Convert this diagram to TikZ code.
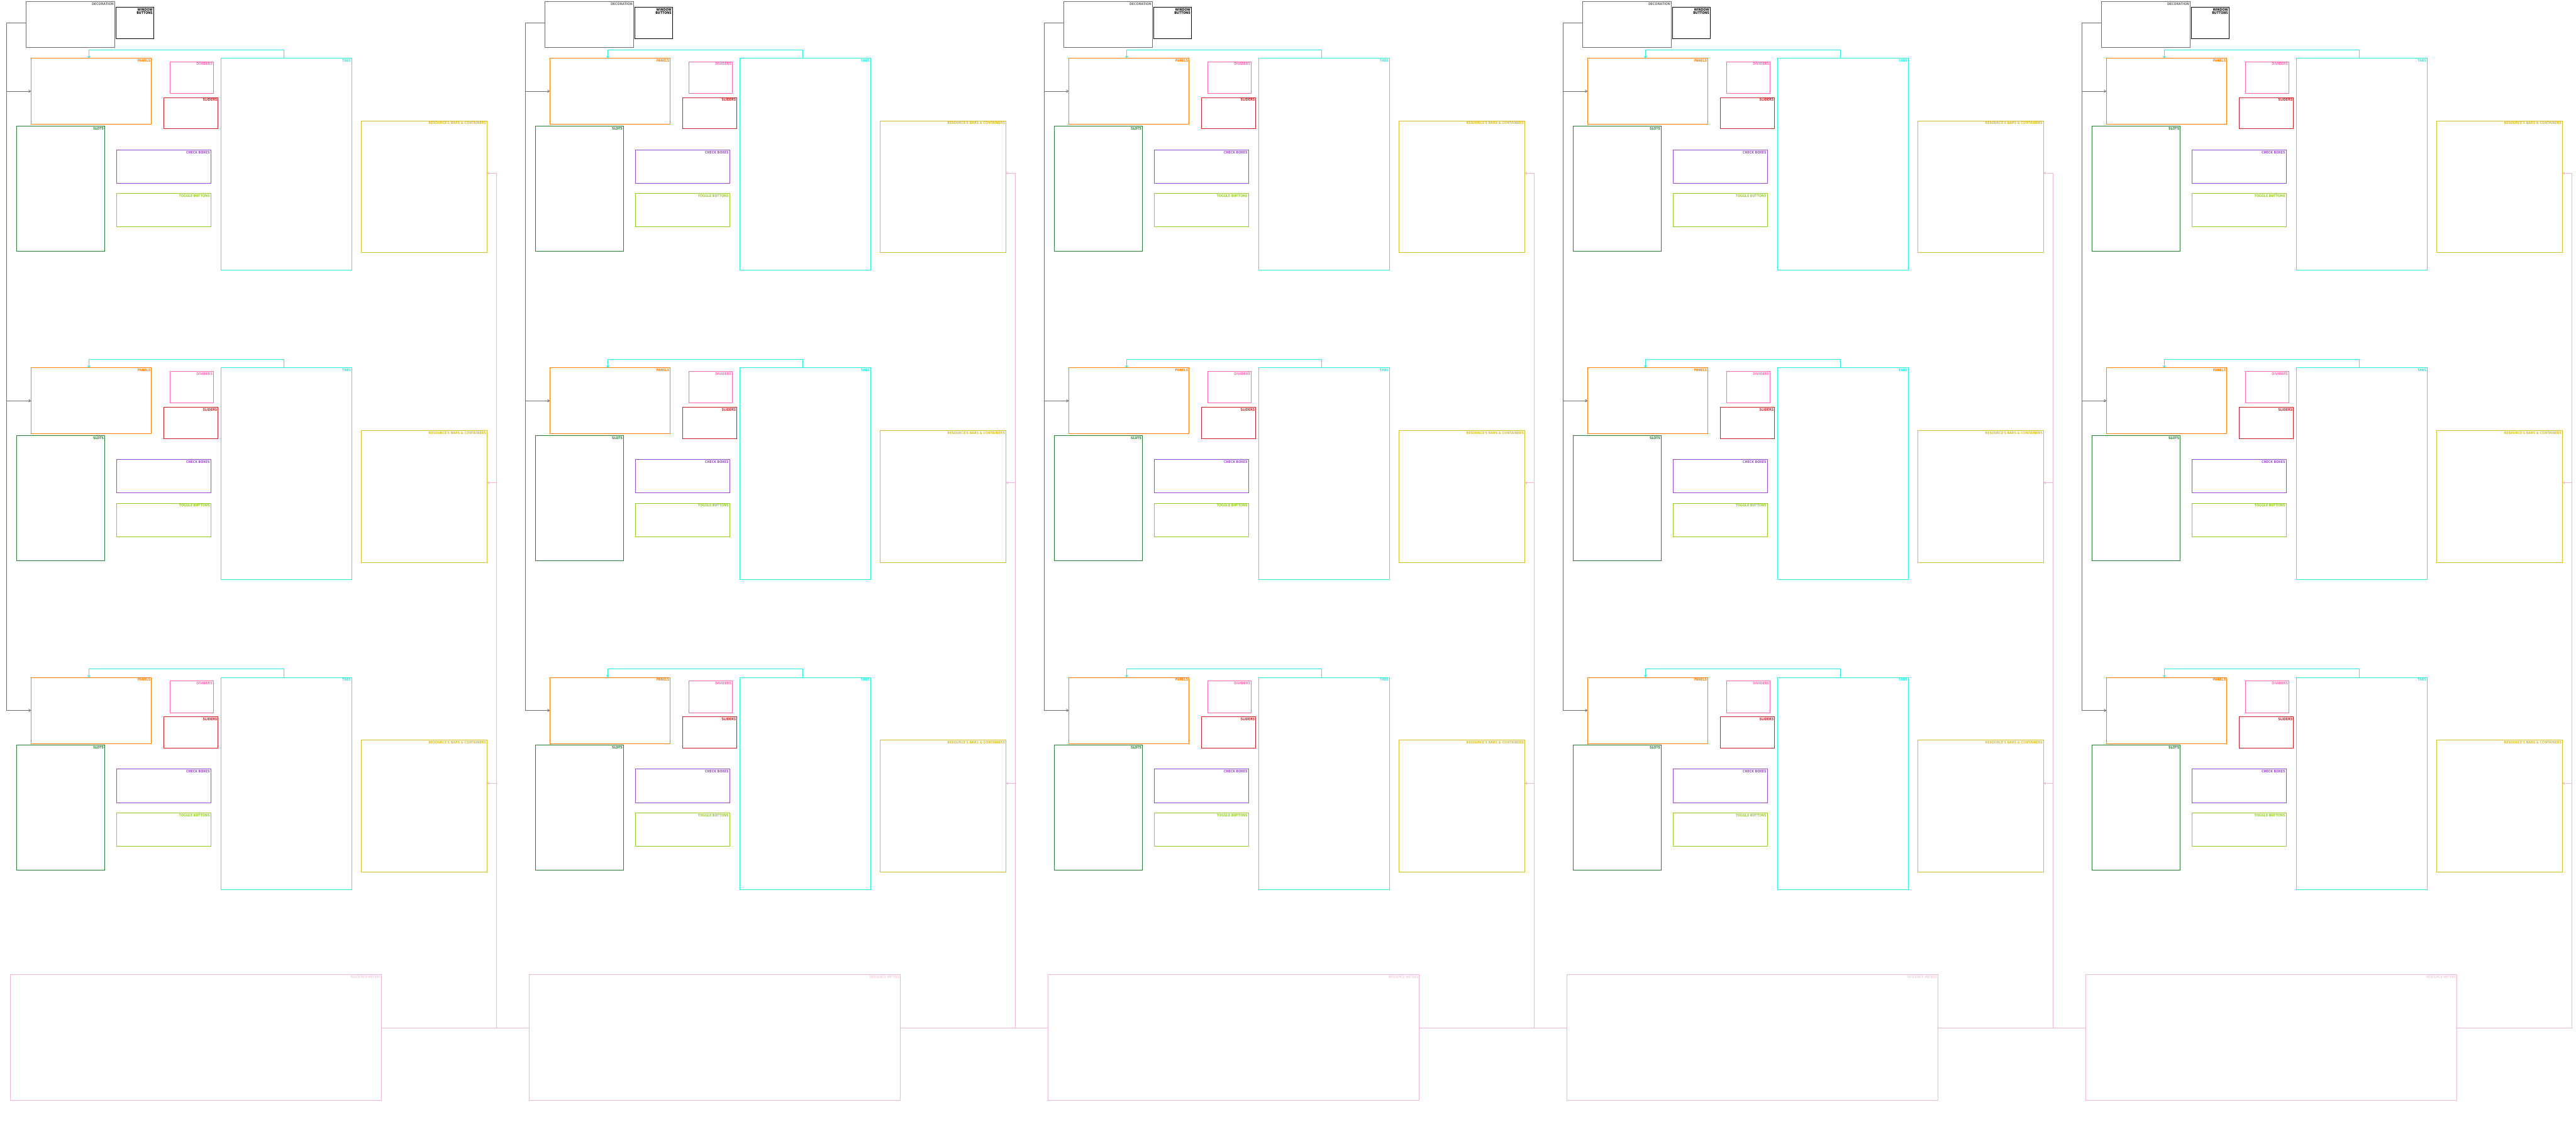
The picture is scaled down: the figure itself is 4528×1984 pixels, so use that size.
\documentclass[tikz,border=0pt]{standalone}
\usepackage{fontspec}
\newfontfamily\lblfont[FakeStretch=0.85]{DejaVu Sans}
\usetikzlibrary{fit,arrows.meta,calc}
\definecolor{cgray}{HTML}{6E6E6E}
\definecolor{corange}{HTML}{FF7F00}
\definecolor{ccyan}{HTML}{22EEE2}
\definecolor{cdiv}{HTML}{FF69B4}
\definecolor{cslider}{HTML}{C81E24}
\definecolor{cslots}{HTML}{267D36}
\definecolor{ccheck}{HTML}{9A4BCF}
\definecolor{ctoggle}{HTML}{96CC22}
\definecolor{cbars}{HTML}{D6BE26}
\definecolor{cmeter}{HTML}{EFB5D6}
\tikzset{
  box/.style={draw=#1, line width=1pt, inner sep=0pt, outer sep=0pt},
  lbl/.style={font=\lblfont\bfseries\fontsize{6.2}{6.5}\selectfont, inner sep=0pt, align=right},
  lblthin/.style={font=\lblfont\fontsize{6.2}{6.5}\selectfont, inner sep=0pt, align=right},
  conn/.style={line width=1pt, -{Straight Barb[length=3pt,width=4.5pt]}},
}
\newcommand\bx[8][lbl]{\node[box=#3, fit={(#4,#5) (#6,#7)},
  label={[#1, text=#3, anchor=north east, xshift=-1.6pt, yshift=-1.7pt]north east:#8}] (#2) {};}
\begin{document}
\begin{tikzpicture}[x=1pt,y=-1pt]
\useasboundingbox (0,0) rectangle (4528,1984);
\foreach \c in {0,...,4}{
  \begin{scope}[shift={(912*\c,0)}]
    \bx{deco-\c}{cgray}{45.3}{2.7}{201.7}{83.3}{DECORATION}
    \bx{win-\c}{black}{204.3}{12.3}{270.3}{68.3}{WINDOW\\BUTTONS}
    \bx[lblthin]{meter-\c}{cmeter}{17.8}{1713.3}{670.5}{1934.3}{RESOURCE METERS}
  \end{scope}
  \foreach \r in {0,1,2}{
    \begin{scope}[shift={(912*\c,544.15*\r)}]
      \bx{panels-\c-\r}{corange}{54.3}{102.3}{266.3}{218.3}{PANELS}
      \bx{dividers-\c-\r}{cdiv}{298.7}{108.3}{375.4}{164.3}{DIVIDERS}
      \bx{sliders-\c-\r}{cslider}{287.5}{171.3}{383.5}{226.3}{SLIDERS}
      \bx{tabs-\c-\r}{ccyan}{388.4}{102.3}{618.5}{475}{TABS}
      \bx{slots-\c-\r}{cslots}{29.5}{221.3}{184.4}{441.3}{SLOTS}
      \bx{check-\c-\r}{ccheck}{205}{263.3}{370.5}{322.3}{CHECK BOXES}
      \bx{toggle-\c-\r}{ctoggle}{205}{340.3}{370.5}{399}{TOGGLE BUTTONS}
      \bx{bars-\c-\r}{cbars}{635.3}{212.3}{856.3}{444.3}{RESOURCE'S BARS \& CONTAINERS}
    \end{scope}
  }
}
% connectors
\foreach \c in {0,...,4}{
  \foreach \r/\yo in {0/92,1/92,2/76}{
    \draw[conn, cgray] ($(deco-\c.north west)+(0,37.6)$) -| ($(panels-\c-\r.west)+(-42.6,0)$) -- (panels-\c-\r.west);
    \draw[conn, ccyan] ($(tabs-\c-\r.north)+(-4.7,0)$) -- ++(0,-15) -| ($(panels-\c-\r.north)+(-4,0)$);
    \draw[conn, cmeter, line width=0.9pt] ($(meter-\c.east)+(0,-16.5)$) -| ($(bars-\c-\r.north east)+(16,\yo)$) -- ($(bars-\c-\r.north east)+(0,\yo)$);
  }
}
\foreach \c in {0,...,3}{
  \pgfmathtruncatemacro\cn{\c+1}
  \draw[cmeter, line width=0.9pt] ($(meter-\c.east)+(0,-16.5)$) -- ($(meter-\cn.west)+(0,-16.5)$);
}
\end{tikzpicture}
\end{document}
